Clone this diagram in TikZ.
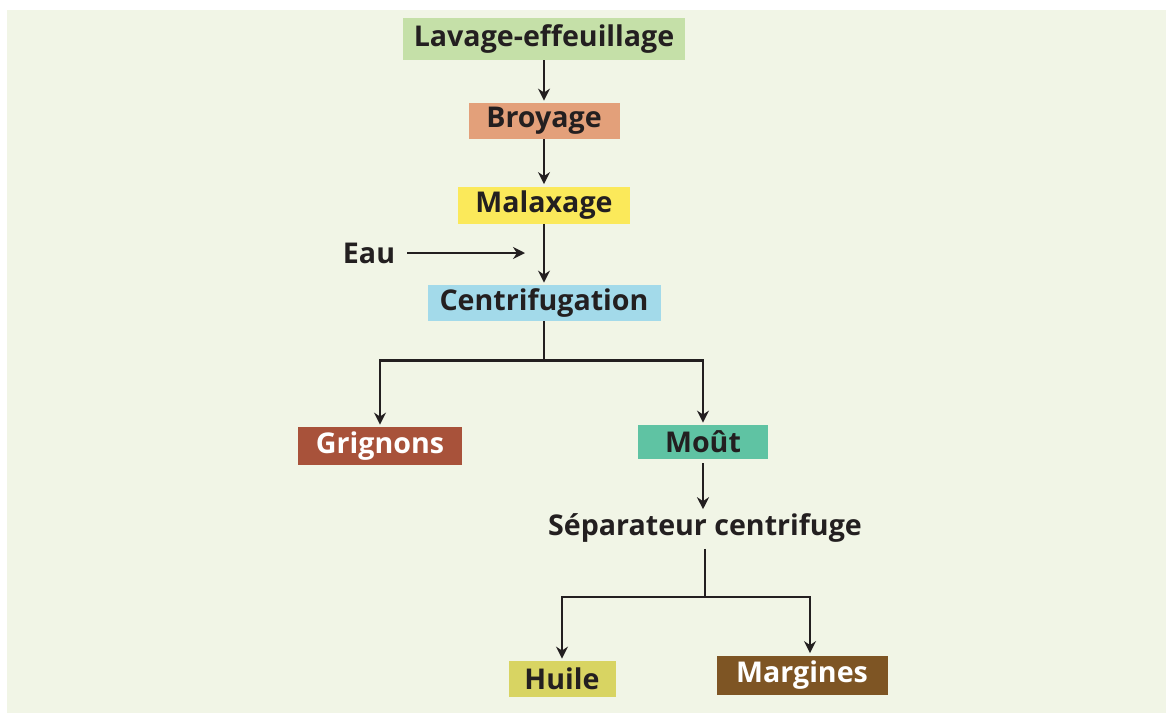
\documentclass[tikz,border=0pt]{standalone}
\usepackage{fontspec}
\setmainfont{Open Sans}
\usepackage{tikz}
\usetikzlibrary{
    positioning,
    arrows.meta,
    calc
}
\definecolor{procInk}{RGB}{35, 31, 32}
\definecolor{procBack}{RGB}{241, 245, 230}
\definecolor{procGreen}{RGB}{197, 224, 168}
\definecolor{procSalmon}{RGB}{227, 160, 122}
\definecolor{procYellow}{RGB}{251, 233, 90}
\definecolor{procBlue}{RGB}{163, 218, 234}
\definecolor{procRust}{RGB}{168, 82, 58}
\definecolor{procTeal}{RGB}{95, 195, 163}
\definecolor{procOlive}{RGB}{216, 212, 98}
\definecolor{procBrown}{RGB}{126, 85, 36}

\begin{document}
\begin{tikzpicture}[x=0.5pt, y=-0.5pt, >={Stealth[length=6pt, width=6pt]},
    etape/.style={inner sep=0pt, font=\fontsize{14.3}{16}\selectfont\bfseries, text=procInk},
    fleche/.style={->, line width=1.2pt, procInk, shorten >=1pt},
    trait/.style={line width=1.2pt, procInk}]
            \useasboundingbox (0,0) rectangle (1166,713);
            \fill[procBack] (7,10) rectangle (1166,713);
            
            % Chain of steps
            \node[etape, fill=procGreen, minimum width=141pt, minimum height=21pt] (lavage) at (544,39) {Lavage-effeuillage};
            \node[etape, fill=procSalmon, minimum width=75.5pt, minimum height=18pt] (broyage) at (544,121) {Broyage};
            \node[etape, fill=procYellow, minimum width=86pt, minimum height=18.5pt] (malaxage) at (544,205) {Malaxage};
            \node[etape, fill=procBlue, minimum width=116.5pt, minimum height=18pt] (centri) at (544,303) {Centrifugation};
            \node[etape] (eau) at (369,253) {Eau};
            \coordinate (eauFin) at (527,253);
            
            \draw[fleche] (lavage) -- (broyage);
            \draw[fleche] (broyage) -- (malaxage);
            \draw[fleche] (malaxage) -- (centri);
            \draw[fleche] ([xshift=6pt]eau.east) -- (eauFin);
            
            % Products of the centrifugation
            \node[etape, fill=procRust, text=white, minimum width=82pt, minimum height=19pt] (grignons) at (380,446) {Grignons};
            \node[etape, fill=procTeal, minimum width=65pt, minimum height=17pt] (mout) at (703,442) {Moût};
            \node[etape] (separateur) at (705,528) {Séparateur centrifuge};
            
            \draw[trait] (centri.south) -- ++(0,39) coordinate (centriBas);
            \draw[fleche] (centriBas) -| (grignons.north);
            \draw[fleche] (centriBas) -| (mout.north);
            \draw[fleche] ([yshift=-2pt]mout.south) -- ([yshift=1pt]mout.south |- separateur.north);
            
            % Products of the separator
            \node[etape, fill=procOlive, minimum width=53.5pt, minimum height=18pt] (huile) at (562,679) {Huile};
            \node[etape, fill=procBrown, text=white, minimum width=85.5pt, minimum height=19.5pt] (margines) at (802,675) {Margines};
            
            \draw[trait] ([yshift=-3pt]separateur.south) -- ++(0,48) coordinate (sepBas);
            \draw[fleche] (sepBas) -| (huile.north);
            \draw[fleche] (sepBas) -| ([xshift=4pt]margines.north);
        \end{tikzpicture}
\end{document}
